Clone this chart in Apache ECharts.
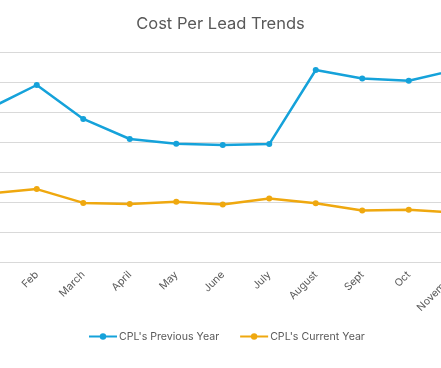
<!DOCTYPE html>
<html>
<head>
<meta charset="utf-8">
<script src="https://cdn.jsdelivr.net/npm/echarts@6/dist/echarts.min.js"></script>
<style>html,body{margin:0;padding:0;background:#fff;}#c{width:441px;height:368px;}</style>
</head>
<body>
<div id="c"></div>
<script>
const categories = ["Jan", "Feb", "March", "April", "May", "June", "July", "August", "Sept", "Oct", "November", "December"];
const previousYear = [51.3, 59, 47.7, 41, 39.4, 39, 39.3, 64, 61.2, 60.4, 64, 62];
const currentYear = [22.9, 24.3, 19.7, 19.3, 20.1, 19.2, 21.2, 19.6, 17.2, 17.4, 16.5, 16];
const seriesNames = ["CPL's Previous Year", "CPL's Current Year"];

const chart = echarts.init(document.getElementById('c'), null, {renderer: 'canvas'});
const font = 'Inter, "Open Sans", sans-serif';
chart.setOption({
  animation: false,
  backgroundColor: '#fff',
  title: {
    text: 'Cost Per Lead Trends',
    left: 'center',
    top: 11,
    textStyle: {fontFamily: font, fontSize: 16.5, fontWeight: 'normal', color: '#595959'}
  },
  legend: {
    top: 331,
    left: 88,
    padding: 0,
    itemWidth: 28,
    itemHeight: 8,
    itemGap: 20,
    textStyle: {fontFamily: font, fontSize: 10.6, color: '#595959', padding: [0, 0, 0, -3]},
    data: seriesNames
  },
  grid: {left: -33, right: -84, top: 52, bottom: 106, containLabel: false, outerBoundsMode: 'none'},
  xAxis: {
    type: 'category',
    data: categories,
    boundaryGap: true,
    axisLine: {lineStyle: {color: '#d9d9d9', width: 1}},
    axisTick: {show: false},
    axisLabel: {rotate: 45, color: '#595959', fontFamily: font, fontSize: 10.5, margin: 11, interval: 0}
  },
  yAxis: {
    type: 'value',
    min: 0, max: 70, interval: 10,
    axisLabel: {show: false},
    axisLine: {show: false},
    axisTick: {show: false},
    splitLine: {lineStyle: {color: '#d9d9d9', width: 1}}
  },
  series: [
    {
      name: seriesNames[0], type: 'line', data: previousYear,
      symbol: 'circle', symbolSize: 6,
      lineStyle: {width: 2.5, color: '#15A2DA'},
      itemStyle: {color: '#15A2DA'}
    },
    {
      name: seriesNames[1], type: 'line', data: currentYear,
      symbol: 'circle', symbolSize: 6,
      lineStyle: {width: 2.5, color: '#EFA80F'},
      itemStyle: {color: '#EFA80F'}
    }
  ]
});
</script>
</body>
</html>
